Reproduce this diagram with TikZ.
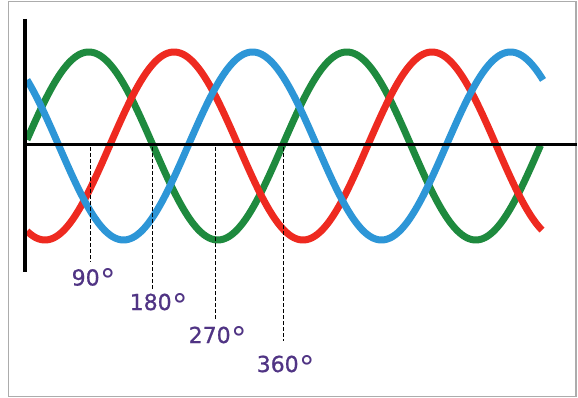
\documentclass[tikz,border=0pt]{standalone}
\usepackage{fontspec}
\setmainfont{DejaVu Sans}
\newfontfamily\lblfont[FakeBold=0.8]{DejaVu Sans}
\newfontfamily\dgfont{DejaVu Sans}
\definecolor{wgreen}{RGB}{30,138,62}
\definecolor{wred}{RGB}{238,42,32}
\definecolor{wblue}{RGB}{45,150,215}
\definecolor{lblpurple}{RGB}{80,52,132}
\definecolor{framegray}{RGB}{172,172,172}
\newcommand{\dg}{\hspace{1pt}\smash{\raisebox{-6pt}{\dgfont\fontsize{31}{31}\selectfont °}}}
\begin{document}
\begin{tikzpicture}[x=1pt,y=-1pt,
  wave/.style={line width=7pt, line cap=butt, line join=round},
  axisln/.style={black, line width=3pt},
  dashln/.style={black, line width=0.9pt, dash pattern=on 4pt off 2pt},
  lbl/.style={text=lblpurple, font=\lblfont\fontsize{22}{22}\selectfont, inner sep=0pt, anchor=base west}]
\useasboundingbox (0,0) rectangle (578,398);
\fill[white] (0,0) rectangle (578,398);
\draw[framegray, line width=1.5pt] (8.5,1.5) rectangle (576,396.5);
% waves
\draw[wave, wgreen] plot[domain=27:540.5, samples=260, smooth] (\x,{146-94*sin(1.395349*(\x-24.25))});
\draw[wave, wred] plot[domain=27:542, samples=260, smooth] (\x,{146-94*sin(1.395349*(\x-109.5))});
\draw[wave, wblue] plot[domain=27:543, samples=260, smooth] (\x,{146-94*sin(1.395349*(\x-188))});
% axes
\coordinate (yt) at (25,19);
\coordinate (yb) at (25,272);
\coordinate (xl) at (25,145);
\coordinate (xr) at (577,145);
\draw[axisln] (xl) -- (xr);
\draw[black, line width=4.5pt] (yt) -- (yb);
% dashed markers
\coordinate (a90) at (90,147);   \coordinate (b90) at (90,262);
\coordinate (a180) at (152,147); \coordinate (b180) at (152,289);
\coordinate (a270) at (215,147); \coordinate (b270) at (215,320);
\coordinate (a360) at (283,147); \coordinate (b360) at (283,341);
\draw[dashln] (a90) -- (b90);
\draw[dashln] (a180) -- (b180);
\draw[dashln] (a270) -- (b270);
\draw[dashln] (a360) -- (b360);
% labels
\node[lbl] (l90) at (71.5,285.5) {90\dg};
\node[lbl] (l180) at (129.5,310) {180\dg};
\node[lbl] (l270) at (188.5,343) {270\dg};
\node[lbl] (l360) at (256.5,372) {360\dg};
\end{tikzpicture}
\end{document}
